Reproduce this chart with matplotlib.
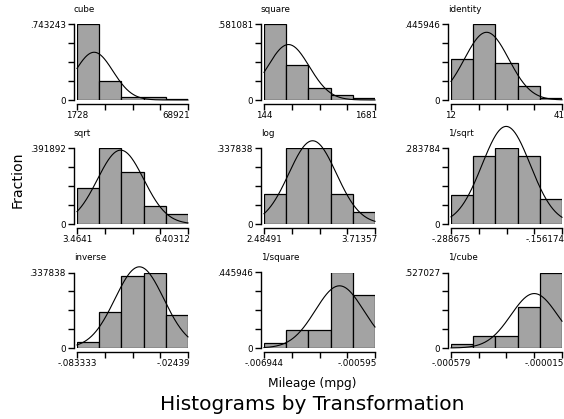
import numpy as np
import matplotlib
matplotlib.use('Agg')
import matplotlib.pyplot as plt

plt.rcParams['font.family'] = ['DejaVu Sans']

# transformations of mpg, 74 cars, 5 bins each
names = ['cube', 'square', 'identity', 'sqrt', 'log', '1/sqrt',
         'inverse', '1/square', '1/cube']
lo = [1728, 144, 12, 3.4641, 2.48491, -0.288675, -0.083333, -0.006944, -0.000579]
hi = [68921, 1681, 41, 6.40312, 3.71357, -0.156174, -0.02439, -0.000595, -0.000015]
lo_lab = ['1728', '144', '12', '3.4641', '2.48491', '-.288675', '-.083333', '-.006944', '-.000579']
hi_lab = ['68921', '1681', '41', '6.40312', '3.71357', '-.156174', '-.02439', '-.000595', '-.000015']
counts = [
    [55, 14, 2, 2, 1],
    [43, 20, 7, 3, 1],
    [18, 33, 16, 6, 1],
    [14, 29, 20, 7, 4],
    [10, 25, 25, 10, 4],
    [8, 19, 21, 19, 7],
    [2, 12, 24, 25, 11],
    [2, 8, 8, 33, 23],
    [2, 6, 6, 21, 39],
]
ymax_lab = ['.743243', '.581081', '.445946', '.391892', '.337838', '.283784',
            '.337838', '.445946', '.527027']
# mean and sd of each transformed variable (normal overlay)
means = [12080, 483, 21.297, 4.619, 3.023, -0.22282, -0.05021, -0.002627, -0.000156]
sds = [11407, 287.3, 5.786, 0.6118, 0.2632, 0.02882, 0.012945, 0.001379, 0.0001184]
n = 74

fig = plt.figure(figsize=(5.64, 4.19), dpi=100)
W, H = 564, 419
lefts = [77, 264, 451]
zeros = [100, 224, 348]
pw, ph = 111, 75.5
fs = 6.3

for i in range(9):
    r, c = divmod(i, 3)
    ax = fig.add_axes([lefts[c] / W, 1 - zeros[r] / H, pw / W, ph / H])
    edges = np.linspace(lo[i], hi[i], 6)
    width = edges[1] - edges[0]
    frac = np.array(counts[i]) / n
    ax.bar(edges[:-1], frac, width=width, align='edge', color='#a3a3a3',
           edgecolor='black', linewidth=0.9)
    xs = np.linspace(lo[i], hi[i], 200)
    ys = width * np.exp(-0.5 * ((xs - means[i]) / sds[i]) ** 2) / (sds[i] * np.sqrt(2 * np.pi))
    ax.plot(xs, ys, color='black', linewidth=0.8, clip_on=False)
    ymax = frac.max()
    ax.set_xlim(lo[i], hi[i])
    ax.set_ylim(0, ymax)
    ax.set_xticks(np.linspace(lo[i], hi[i], 5))
    ax.set_xticklabels([])
    ax.set_yticks(np.linspace(0, ymax, 5))
    ax.set_yticklabels(['0', '', '', '', ymax_lab[i]])
    for s in ['top', 'right']:
        ax.spines[s].set_visible(False)
    ax.spines['left'].set_position(('outward', 2.5))
    ax.spines['bottom'].set_position(('outward', 3))
    ax.spines['left'].set_linewidth(1.0)
    ax.spines['bottom'].set_linewidth(1.0)
    ax.tick_params(length=4, width=1.0, labelsize=fs, pad=1.5)
    ax.patch.set_visible(False)
    # end labels of the x axis
    ax.text(0, -0.2, lo_lab[i], transform=ax.transAxes, fontsize=fs,
            ha='center', va='center')
    ax.text(1.02, -0.2, hi_lab[i], transform=ax.transAxes, fontsize=fs,
            ha='right', va='center')
    ax.text(-0.03, 1.2, names[i], transform=ax.transAxes, fontsize=fs,
            ha='left', va='center')

fig.text(18 / W, 1 - 180 / H, 'Fraction', rotation=90, ha='center', va='center', fontsize=10.2)
fig.text(312 / W, 1 - 383 / H, 'Mileage (mpg)', ha='center', va='center', fontsize=8.8)
fig.text(312 / W, 1 - 404 / H, 'Histograms by Transformation', ha='center', va='center', fontsize=14.5)

fig.savefig('out.png', dpi=100)
